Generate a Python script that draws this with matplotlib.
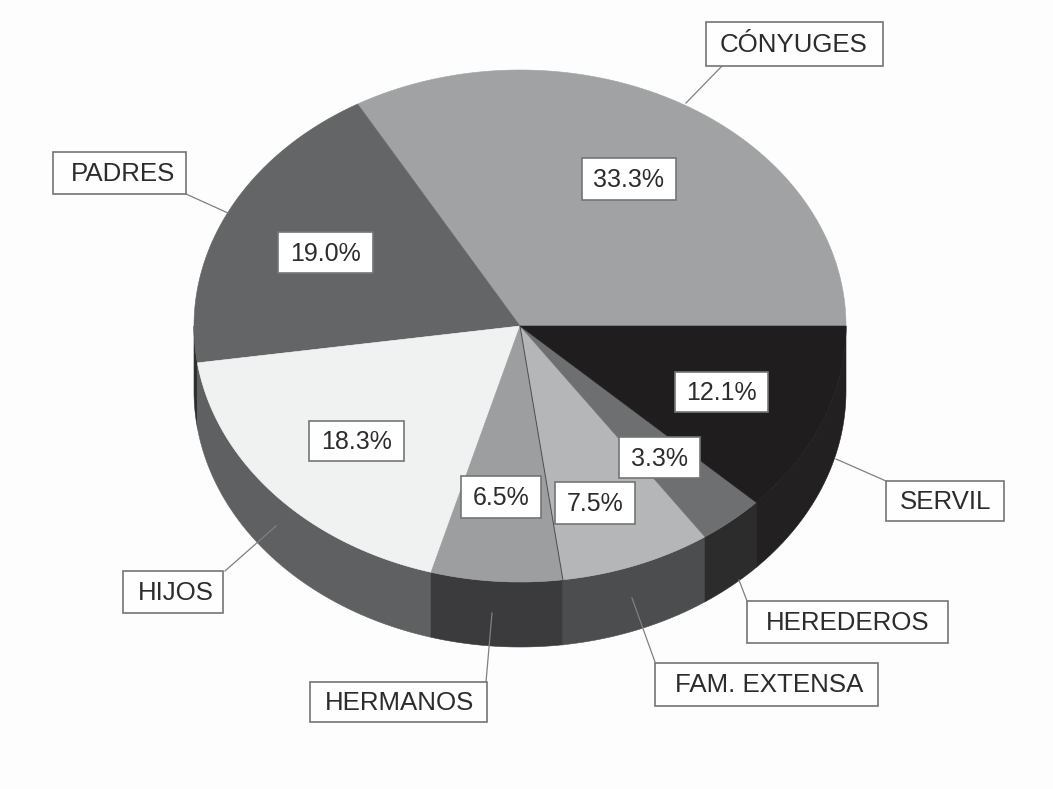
import numpy as np
import matplotlib
matplotlib.use("Agg")
import matplotlib.pyplot as plt
from matplotlib.patches import Rectangle

categories = ["CÓNYUGES", "PADRES", "HIJOS", "HERMANOS", "FAM. EXTENSA", "HEREDEROS", "SERVIL"]
values = [33.3, 19.0, 18.3, 6.5, 7.5, 3.3, 12.1]
value_labels = ["33.3%", "19.0%", "18.3%", "6.5%", "7.5%", "3.3%", "12.1%"]

top_colors = ["#a1a2a4", "#646567", "#f0f1f1", "#9d9ea0", "#b5b6b7", "#6e6f71", "#1f1d1e"]
side_colors = ["#555555", "#2f2f30", "#5f6062", "#3b3b3d", "#4c4d4e", "#2d2c2d", "#222021"]

# layout (pixel coordinates of the canvas)
W, H = 1053, 789
CX, CY, RX, RY, DEPTH = 520, 326, 326, 256, 65
name_boxes = [(706, 22, 883, 66), (53, 152, 186, 194), (123, 571, 223, 613), (310, 682, 487, 722),
              (655, 663, 878, 706), (747, 601, 948, 643), (886, 481, 1004, 521)]
name_text_x = [794, 123, 175.5, 399.5, 769, 848, 945.5]
name_leaders = [((722, 66), (686, 103)), ((186, 194), (228, 213)), ((225, 571), (276, 526)),
                ((486, 682), (492, 613)), ((655, 662), (632, 598)), ((747, 601), (739, 580)),
                ((886, 481), (836, 459))]
value_boxes = [(582, 158, 676, 200), (278, 232, 373, 273), (309, 421, 404, 461), (461, 476, 541, 518),
               (555, 482, 635, 524), (619, 437, 700, 478), (675, 372, 768, 412)]

fig = plt.figure(figsize=(W / 100, H / 100), dpi=100, facecolor="#fdfdfd")
ax = fig.add_axes([0, 0, 1, 1])
ax.set_xlim(0, W)
ax.set_ylim(H, 0)
ax.axis("off")
plt.rcParams["font.family"] = ["Liberation Sans", "DejaVu Sans"]


def rim(a0, a1, n=120):
    t = np.radians(np.linspace(a0, a1, n))
    return CX + RX * np.cos(t), CY - RY * np.sin(t)


edges = np.concatenate([[0], np.cumsum(values)]) / np.sum(values) * 360

# side wall (only the front half of the ellipse shows)
for i in range(len(values)):
    a0, a1 = max(edges[i], 180), edges[i + 1]
    if a1 <= a0:
        continue
    x, y = rim(a0, a1)
    ax.fill(np.r_[x, x[::-1]], np.r_[y, y[::-1] + DEPTH], color=side_colors[i], lw=0.4, zorder=1)

# top face
for i in range(len(values)):
    x, y = rim(edges[i], edges[i + 1])
    ax.fill(np.r_[CX, x], np.r_[CY, y], color=top_colors[i], lw=0.4, zorder=2)

# hairline between HERMANOS and FAM. EXTENSA
a = edges[4]
x, y = rim(a, a, 1)
ax.plot([CX, x[0], x[0]], [CY, y[0], y[0] + DEPTH], color="#4a4a4a", lw=0.7, zorder=3)

for p, q in name_leaders:
    ax.plot([p[0], q[0]], [p[1], q[1]], color="#808080", lw=0.9, zorder=3)

text_color = "#2c2c2e"
for label, tx, (x0, y0, x1, y1) in zip(categories, name_text_x, name_boxes):
    ax.add_patch(Rectangle((x0, y0), x1 - x0, y1 - y0, fc="#fefefe", ec="#757575", lw=1.2, zorder=4))
    ax.text(tx, (y0 + y1) / 2 + 1, label, ha="center", va="center",
            fontsize=18.6, color=text_color, zorder=5)
for label, (x0, y0, x1, y1) in zip(value_labels, value_boxes):
    ax.add_patch(Rectangle((x0, y0), x1 - x0, y1 - y0, fc="#ffffff", ec="#757575", lw=1.2, zorder=4))
    ax.text((x0 + x1) / 2, (y0 + y1) / 2 + 1, label, ha="center", va="center",
            fontsize=18, color=text_color, zorder=5)

fig.savefig("out.png", dpi=100, facecolor=fig.get_facecolor())
